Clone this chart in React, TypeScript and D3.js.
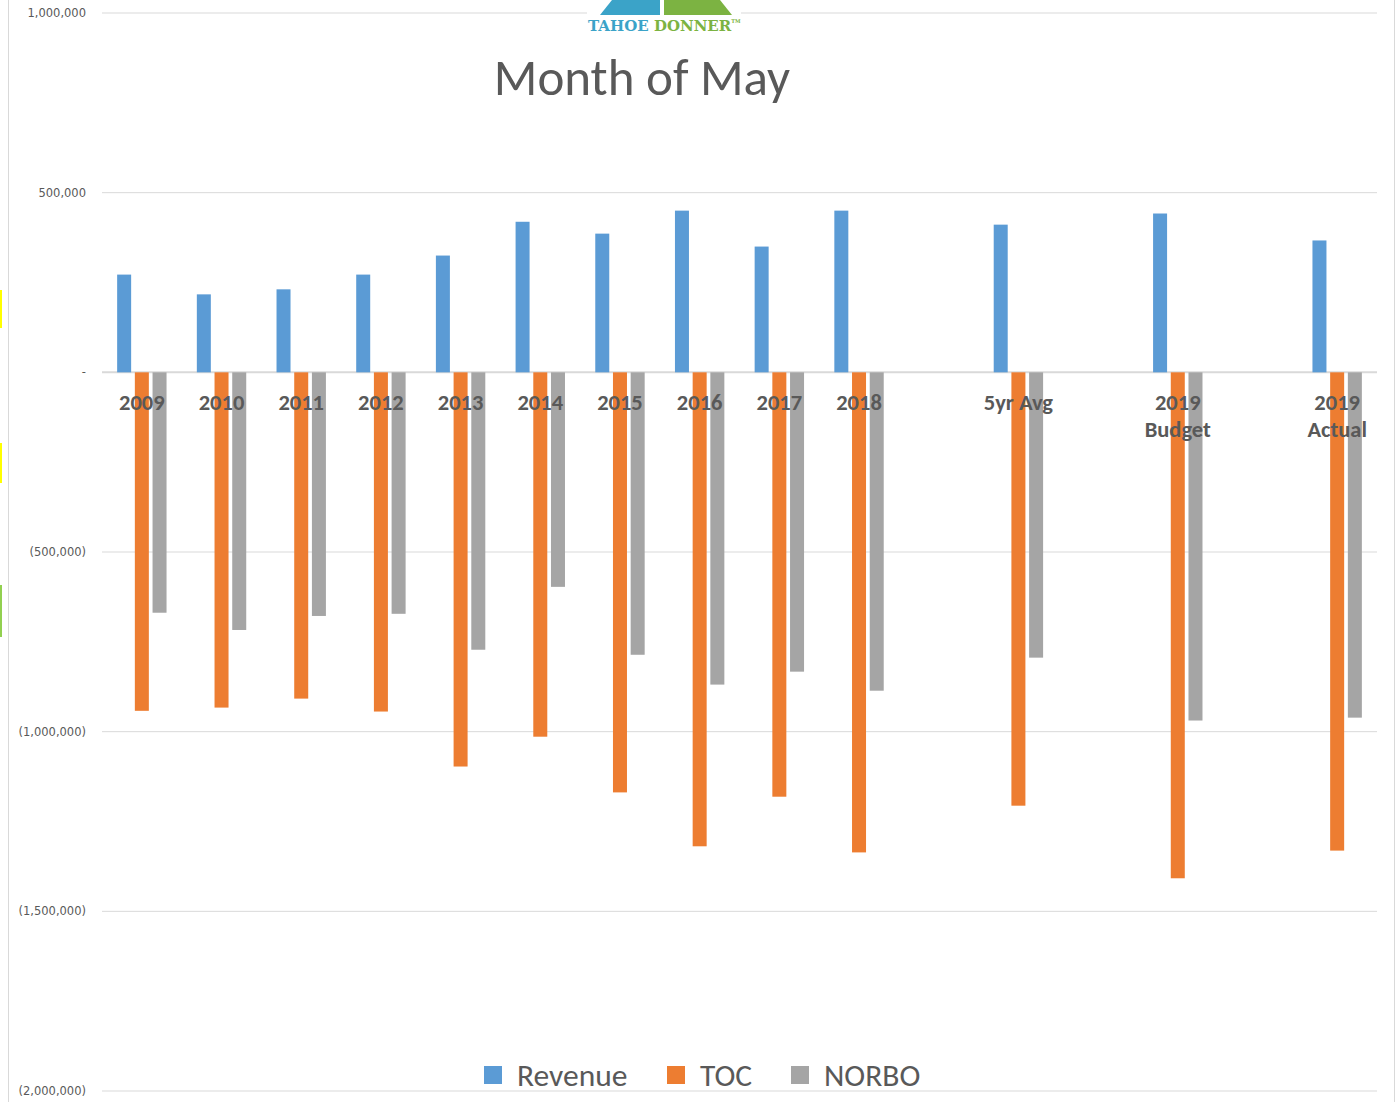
import React from "react";
import * as d3 from "d3";

const categories = ["2009", "2010", "2011", "2012", "2013", "2014", "2015", "2016", "2017", "2018", "", "5yr Avg", "", "2019 Budget", "", "2019 Actual"];
const labelLines: string[][] = [["2009"], ["2010"], ["2011"], ["2012"], ["2013"], ["2014"], ["2015"], ["2016"], ["2017"], ["2018"], [], ["5yr Avg"], [], ["2019", "Budget"], [], ["2019", "Actual"]];
const revenue = [272000, 217000, 231000, 272000, 325000, 419000, 386000, 450000, 350000, 450000, null, 411000, null, 442000, null, 367000];
const toc = [-942000, -933000, -908000, -944000, -1097000, -1014000, -1169000, -1319000, -1181000, -1336000, null, -1206000, null, -1408000, null, -1331000];
const norbo = [-669000, -717000, -678000, -672000, -772000, -597000, -786000, -869000, -833000, -886000, null, -794000, null, -969000, null, -961000];
const yTicks = [1000000, 500000, 0, -500000, -1000000, -1500000, -2000000];
const seriesNames = ["Revenue", "TOC", "NORBO"];
const seriesColors = ["#5b9bd5", "#ed7d31", "#a5a5a5"];

const fmt = (v: number) => {
  if (v === 0) return "-";
  const s = d3.format(",")(Math.abs(v));
  return v < 0 ? `(${s})` : s;
};

export default function App() {
  const W = 1395, H = 1102;
  const left = 102, right = 1377;
  const x = d3.scaleBand<string>().domain(categories.map((c, i) => String(i))).range([left, right]);
  const y = d3.scaleLinear().domain([-2000000, 1000000]).range([1091, 13]);
  const bw = 14;
  const offs = [-17.7, 0, 17.7];
  const series = [revenue, toc, norbo];
  const font = "Carlito, 'Liberation Sans', Arial, sans-serif";
  const textColor = "#595959";

  return (
    <svg width={W} height={H} style={{ position: "absolute", left: 0, top: 0, background: "#fff" }} fontFamily={font}>
      <rect x={0} y={0} width={W} height={H} fill="#fff" />
      {/* frame lines */}
      <line x1={8.5} x2={8.5} y1={0} y2={H} stroke="#d9d9d9" strokeWidth={1} />
      <line x1={1394.5} x2={1394.5} y1={0} y2={H} stroke="#d9d9d9" strokeWidth={1} />
      <rect x={0} y={290} width={2} height={38} fill="#ffff00" />
      <rect x={0} y={443} width={2} height={40} fill="#ffff00" />
      <rect x={0} y={585} width={2} height={52} fill="#92d050" />
      {/* gridlines */}
      {yTicks.map((t) => (
        <g key={t}>
          <line x1={left} x2={right} y1={y(t)} y2={y(t)} stroke="#d9d9d9" strokeWidth={t === 0 ? 2 : 1} />
          <text x={86} y={y(t) + 4} textAnchor="end" fill={textColor} fontFamily="'DejaVu Sans', Verdana, sans-serif" style={{ fontSize: 11.5 }}>
            {fmt(t)}
          </text>
        </g>
      ))}
      {/* bars */}
      {series.map((s, si) =>
        s.map((v, i) => {
          if (v === null) return null;
          const cx = (x(String(i)) as number) + x.bandwidth() / 2 + offs[si];
          const y0 = y(0), y1 = y(v);
          return (
            <rect key={`${si}-${i}`} x={cx - bw / 2} y={Math.min(y0, y1)} width={bw} height={Math.abs(y1 - y0)} fill={seriesColors[si]} />
          );
        })
      )}
      {/* category labels */}
      {labelLines.map((lines, i) =>
        lines.map((ln, li) => (
          <text key={`${i}-${li}`} x={(x(String(i)) as number) + x.bandwidth() / 2} y={410 + li * 27} textAnchor="middle" fontSize={22.5} fontWeight="bold" fill={textColor}>
            {ln}
          </text>
        ))
      )}
      {/* title */}
      <text x={642} y={95} textAnchor="middle" fontSize={51} fill={textColor}>Month of May</text>
      {/* logo */}
      <rect x={587} y={0} width={154} height={34} fill="#fff" />
      <polygon points="600,15 612,0 660,0 660,15" fill="#3ba3c8" />
      <polygon points="664,15 664,0 720,0 732,15" fill="#7cb342" />
      <text x={588} y={31} fontSize={15} fontWeight="bold" fontFamily="'DejaVu Serif', serif">
        <tspan fill="#3ba3c8">TAHOE </tspan>
        <tspan fill="#7cb342">DONNER</tspan>
        <tspan fill="#7cb342" fontSize={5} dy={-8}>TM</tspan>
      </text>
      {/* legend */}
      {seriesNames.map((n, i) => {
        const sx = [484, 667, 791][i];
        return (
          <g key={n}>
            <rect x={sx} y={1066} width={18} height={18} fill={seriesColors[i]} />
            <text x={sx + 33} y={1086} fontSize={31.5} fill={textColor}>{n}</text>
          </g>
        );
      })}
    </svg>
  );
}
